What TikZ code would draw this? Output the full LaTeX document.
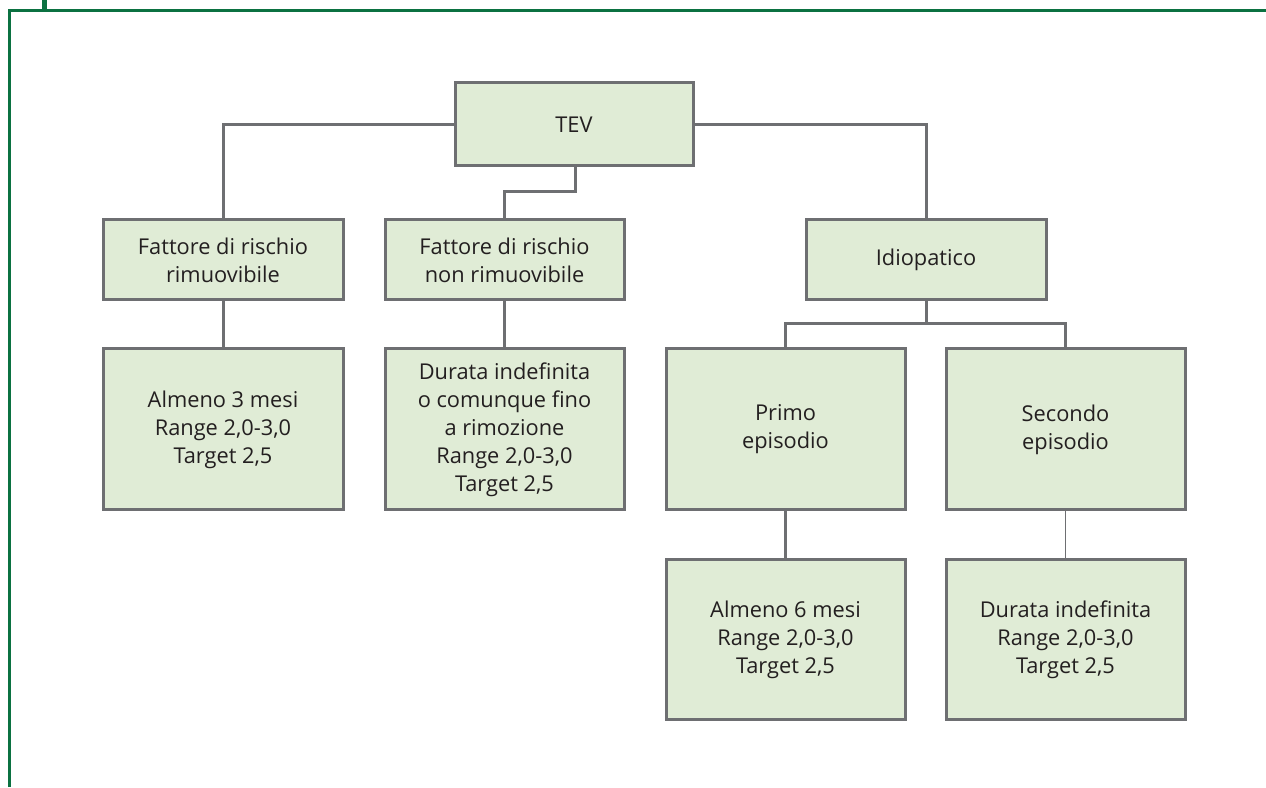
\documentclass[tikz,border=0pt]{standalone}
\usepackage{fontspec}
\setmainfont{Open Sans}
\definecolor{boxfill}{HTML}{E0ECD6}
\definecolor{boxline}{HTML}{6E6F72}
\definecolor{frame}{HTML}{0B7141}
\definecolor{txt}{HTML}{231F20}
\begin{document}
\begin{tikzpicture}[x=1pt,y=1pt,
  box/.style={draw=boxline,line width=3pt,fill=boxfill,inner sep=0pt,
    align=center,font=\fontsize{21.8}{28}\selectfont,text=txt},
  conn/.style={draw=boxline,line width=3pt}]
\useasboundingbox (0,0) rectangle (1266,787);
% green frame
\draw[frame,line width=3pt] (9.5,0) -- (9.5,776.5) -- (1266,776.5);
\draw[frame,line width=4.5pt] (44.5,776.5) -- (44.5,787);
% boxes (pixel coords, y flipped: 787-y)
\node[box,minimum width=238pt,minimum height=83pt] (tev) at (574,662.5) {TEV};
\node[box,minimum width=240pt,minimum height=80pt] (f1) at (223,527) {Fattore di rischio\\rimuovibile};
\node[box,minimum width=239pt,minimum height=80pt] (f2) at (504.5,527) {Fattore di rischio\\non rimuovibile};
\node[box,minimum width=240pt,minimum height=80pt] (idio) at (926,527) {Idiopatico};
\node[box,minimum width=240pt,minimum height=161pt] (a3) at (223,357.5) {Almeno 3 mesi\\Range 2,0-3,0\\Target 2,5};
\node[box,minimum width=239pt,minimum height=161pt] (dur) at (504.5,357.5) {Durata indefinita\\o comunque fino\\a rimozione\\Range 2,0-3,0\\Target 2,5};
\node[box,minimum width=239pt,minimum height=161pt] (primo) at (785.5,357.5) {Primo\\episodio};
\node[box,minimum width=239pt,minimum height=161pt] (sec) at (1065.5,357.5) {Secondo\\episodio};
\node[box,minimum width=239pt,minimum height=160pt] (a6) at (785.5,147) {Almeno 6 mesi\\Range 2,0-3,0\\Target 2,5};
\node[box,minimum width=239pt,minimum height=160pt] (di) at (1065.5,147) {Durata indefinita\\Range 2,0-3,0\\Target 2,5};
% connectors
\coordinate (tz) at (575,595);
\coordinate (iz) at (926,463);
\draw[conn] (tev.west) -| (f1.north);
\draw[conn] (tev.east) -| (idio.north);
\draw[conn] (tev.south -| tz) -- (tz) -| (f2.north);
\draw[conn] (f1.south) -- (a3.north);
\draw[conn] (f2.south) -- (dur.north);
\draw[conn] (idio.south) -- (iz) -| (primo.north);
\draw[conn] (iz) -| (sec.north);
\draw[conn] (primo.south) -- (a6.north);
\draw[conn,line width=1.8pt] (sec.south) -- (di.north);
\end{tikzpicture}
\end{document}
